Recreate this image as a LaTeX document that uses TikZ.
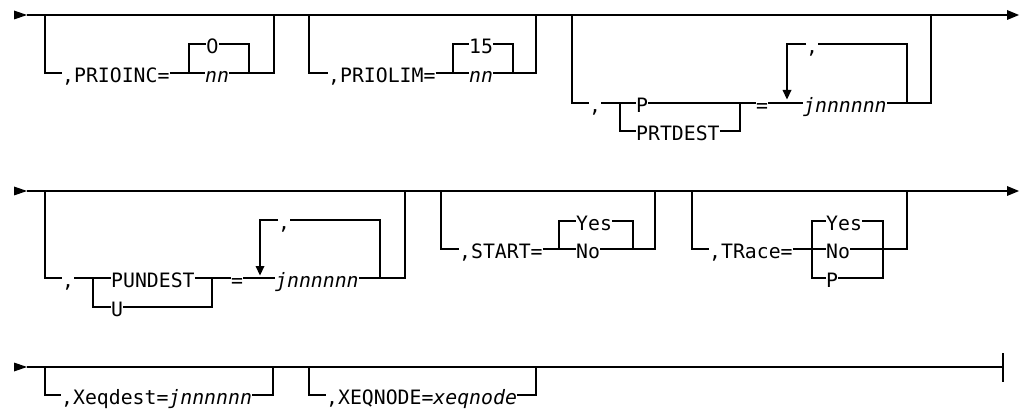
\documentclass[tikz,border=0pt]{standalone}
\usepackage{fontspec}
\newfontfamily\rrmono{DejaVu Sans Mono}
\newfontfamily\rrsans{DejaVu Sans}
\tikzset{
  rail/.style={line width=1.1pt, line join=miter},
  lbl/.style={inner xsep=0pt, inner ysep=0pt, text height=18.8pt, text depth=0pt,
              anchor=west, font=\rrmono\fontsize{19.8}{22}\selectfont},
  itl/.style={lbl, font=\rrmono\itshape\fontsize{19.8}{22}\selectfont},
  tipfill/.style={fill=black, draw=none}
}
\begin{document}
\begin{tikzpicture}[x=1pt, y=-1pt]
\useasboundingbox (0,0) rectangle (1021,409);

% ---------------- Row 1 ----------------
\coordinate (s1) at (27,15);
\coordinate (e1) at (1007,15);
\fill[tipfill] (14,10.5) -- (s1) -- (14,19.5) -- cycle;
\draw[rail] (s1) -- (e1);
\fill[tipfill] (1007,10) -- (1019,15) -- (1007,20) -- cycle;

% PRIOINC
\node[lbl] (pinc) at (62,73) {,PRIOINC=};
\node[lbl] (pinc0) at (206,44) {\rrsans 0};
\node[itl] (pincnn) at (205,73) {nn};
\draw[rail] (45,15) |- (pinc.west);
\draw[rail] (pinc.east) -- (pincnn.west);
\draw[rail] (189,73) |- (pinc0.west);
\draw[rail] (pinc0.east) -| (249,73);
\draw[rail] (pincnn.east) -- (274,73) -- (274,15);

% PRIOLIM
\node[lbl] (plim) at (328,73) {,PRIOLIM=};
\node[lbl] (plim15) at (469,44) {15};
\node[itl] (plimnn) at (469,73) {nn};
\draw[rail] (309,15) |- (plim.west);
\draw[rail] (plim.east) -- (plimnn.west);
\draw[rail] (453,73) |- (plim15.west);
\draw[rail] (plim15.east) -| (513,73);
\draw[rail] (plimnn.east) -- (536,73) -- (536,15);

% P / PRTDEST
\node[lbl] (prc) at (589,103) {,};
\node[lbl] (prP) at (636,103) {P};
\node[lbl] (prD) at (636,131) {PRTDEST};
\node[lbl] (preq) at (756,103) {=};
\node[itl] (prj) at (803,103) {jnnnnnn};
\node[lbl] (prrc) at (806,44) {,};
\draw[rail] (572,15) |- (prc.west);
\draw[rail] (prc.east) -- (prP.west);
\draw[rail] (620,103) |- (prD.west);
\draw[rail] (prP.east) -- (preq.west);
\draw[rail] (prD.east) -| (740,103);
\draw[rail] (preq.east) -- (prj.west);
\draw[rail] (prj.east) -- (931,103) -- (931,15);
\draw[rail] (907,103) |- (prrc.east);
\draw[rail] (prrc.west) -| (787,90);
\fill[tipfill] (782.5,90) -- (791.5,90) -- (787,99.5) -- cycle;

% ---------------- Row 2 ----------------
\coordinate (s2) at (27,191);
\coordinate (e2) at (1007,191);
\fill[tipfill] (14,186.5) -- (s2) -- (14,195.5) -- cycle;
\draw[rail] (s2) -- (e2);
\fill[tipfill] (1007,186) -- (1019,191) -- (1007,196) -- cycle;

% PUNDEST / U
\node[lbl] (puc) at (62,278) {,};
\node[lbl] (puP) at (111,278) {PUNDEST};
\node[lbl] (puU) at (111,307) {U};
\node[lbl] (pueq) at (231,278) {=};
\node[itl] (puj) at (275,278) {jnnnnnn};
\node[lbl] (purc) at (278,220) {,};
\draw[rail] (45,191) |- (puc.west);
\draw[rail] (puc.east) -- (puP.west);
\draw[rail] (93,278) |- (puU.west);
\draw[rail] (puP.east) -- (pueq.west);
\draw[rail] (puU.east) -| (212,278);
\draw[rail] (pueq.east) -- (puj.west);
\draw[rail] (puj.east) -- (405,278) -- (405,191);
\draw[rail] (380,278) |- (purc.east);
\draw[rail] (purc.west) -| (260,266);
\fill[tipfill] (255.5,266) -- (264.5,266) -- (260,275.5) -- cycle;

% START
\node[lbl] (st) at (459,249) {,START=};
\node[lbl] (stY) at (576,221) {Yes};
\node[lbl] (stN) at (576,249) {No};
\draw[rail] (441,191) |- (st.west);
\draw[rail] (st.east) -- (stN.west);
\draw[rail] (559,249) |- (stY.west);
\draw[rail] (stY.east) -| (633,249);
\draw[rail] (stN.east) -- (655,249) -- (655,191);

% TRace
\node[lbl] (tr) at (709,249) {,TRace=};
\node[lbl] (trY) at (826,221) {Yes};
\node[lbl] (trN) at (826,249) {No};
\node[lbl] (trP) at (826,278) {P};
\draw[rail] (692,191) |- (tr.west);
\draw[rail] (tr.east) -- (trN.west);
\draw[rail] (trY.west) -- (812,221) -- (812,278) -- (trP.west);
\draw[rail] (trY.east) -- (883,221) -- (883,278) -- (trP.east);
\draw[rail] (trN.east) -- (907,249) -- (907,191);

% ---------------- Row 3 ----------------
\coordinate (s3) at (27,367);
\coordinate (e3) at (1003,367);
\fill[tipfill] (14,362.5) -- (s3) -- (14,371.5) -- cycle;
\draw[rail] (s3) -- (e3);
\draw[rail] (1003,353) -- (1003,382);

\node[lbl] (xd) at (61,395) {,Xeqdest=\textit{jnnnnnn}};
\node[lbl] (xn) at (326,395) {,XEQNODE=\textit{xeqnode}};
\draw[rail] (45,367) |- (xd.west);
\draw[rail] (xd.east) -- (273,395) -- (273,367);
\draw[rail] (309,367) |- (xn.west);
\draw[rail] (xn.east) -- (536,395) -- (536,367);
\end{tikzpicture}
\end{document}
